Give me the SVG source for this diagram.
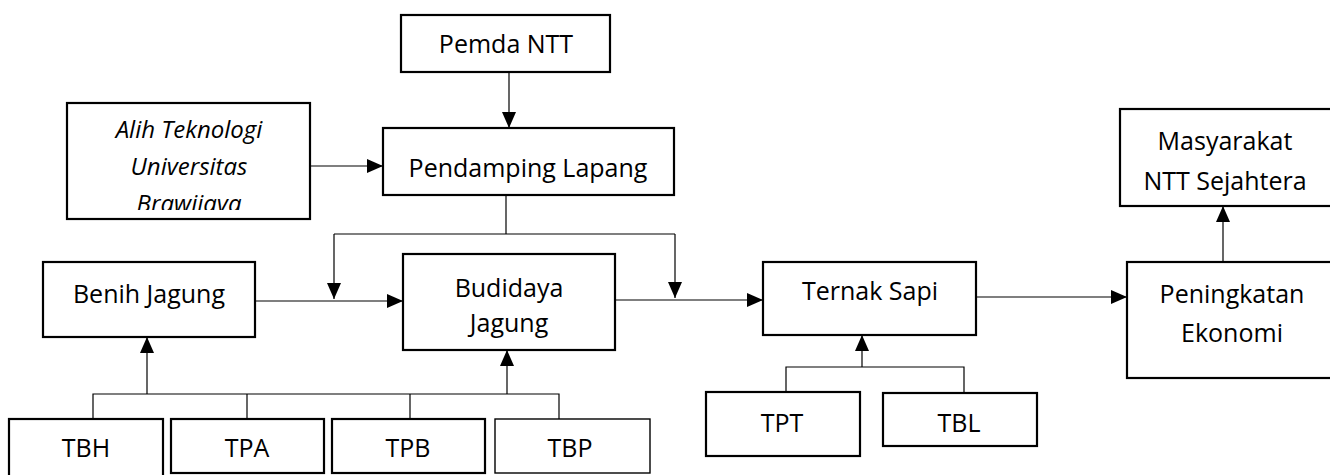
<svg xmlns="http://www.w3.org/2000/svg" width="1330" height="475" viewBox="0 0 1330 475">
<style>
.box{fill:#fff;stroke:#000;stroke-width:2.2}
.thin{stroke-width:1.4}
.t{font-family:"Open Sans","Noto Sans",sans-serif;font-size:25px;fill:#000;text-anchor:middle}
.it{font-style:italic;font-size:24px}
.ln{fill:none;stroke:#000;stroke-width:1.2}
</style>
<defs>
<marker id="ah" markerUnits="userSpaceOnUse" markerWidth="16" markerHeight="14" viewBox="0 0 16 14" refX="16" refY="7" orient="auto">
<path d="M0,0 L16,7 L0,14 z" fill="#000"/>
</marker>
<clipPath id="alihclip"><rect x="67" y="103" width="243" height="107"/></clipPath>
</defs>
<rect width="1330" height="475" fill="#fff"/>

<g id="connectors">
<line class="ln" x1="509" y1="72" x2="509" y2="128" marker-end="url(#ah)"/>
<line class="ln" x1="310" y1="166" x2="383" y2="166" marker-end="url(#ah)"/>
<polyline class="ln" points="506,195 506,234"/>
<polyline class="ln" points="334,234 675,234"/>
<line class="ln" x1="334" y1="234" x2="334" y2="299" marker-end="url(#ah)"/>
<line class="ln" x1="675" y1="234" x2="675" y2="298" marker-end="url(#ah)"/>
<line class="ln" x1="255" y1="301" x2="403" y2="301" marker-end="url(#ah)"/>
<line class="ln" x1="615" y1="300" x2="763" y2="300" marker-end="url(#ah)"/>
<line class="ln" x1="976" y1="297" x2="1127" y2="297" marker-end="url(#ah)"/>
<line class="ln" x1="1223" y1="262" x2="1223" y2="206" marker-end="url(#ah)"/>
<polyline class="ln" points="93,419 93,394 559,394 559,419"/>
<line class="ln" x1="247" y1="394" x2="247" y2="419"/>
<line class="ln" x1="410" y1="394" x2="410" y2="419"/>
<line class="ln" x1="147" y1="394" x2="147" y2="337" marker-end="url(#ah)"/>
<line class="ln" x1="507" y1="394" x2="507" y2="350" marker-end="url(#ah)"/>
<polyline class="ln" points="786,392 786,367 964,367 964,393"/>
<line class="ln" x1="862" y1="367" x2="862" y2="335" marker-end="url(#ah)"/>
</g>

<g id="pemda">
<rect class="box" x="401" y="15" width="209" height="57"/>
<text class="t" x="506" y="53">Pemda NTT</text>
</g>
<g id="alih">
<rect class="box" x="67" y="103" width="243" height="116"/>
<g clip-path="url(#alihclip)">
<text class="t it" x="189" y="138">Alih Teknologi</text>
<text class="t it" x="189" y="175">Universitas</text>
<text class="t it" x="189" y="212">Brawijaya</text>
</g>
</g>
<g id="pendamping">
<rect class="box" x="383" y="128" width="291" height="67"/>
<text class="t" x="528" y="177">Pendamping Lapang</text>
</g>
<g id="benih">
<rect class="box" x="43" y="262" width="212" height="75"/>
<text class="t" x="149" y="303">Benih Jagung</text>
</g>
<g id="budidaya">
<rect class="box" x="403" y="254" width="212" height="96"/>
<text class="t" x="509" y="297">Budidaya</text>
<text class="t" x="509" y="332">Jagung</text>
</g>
<g id="ternak">
<rect class="box" x="763" y="262" width="213" height="73"/>
<text class="t" x="870" y="300">Ternak Sapi</text>
</g>
<g id="peningkatan">
<rect class="box" x="1127" y="262" width="210" height="116"/>
<text class="t" x="1232" y="303">Peningkatan</text>
<text class="t" x="1232" y="342">Ekonomi</text>
</g>
<g id="masyarakat">
<rect class="box" x="1120" y="109" width="217" height="97"/>
<text class="t" x="1225" y="150">Masyarakat</text>
<text class="t" x="1225" y="190">NTT Sejahtera</text>
</g>
<g id="tbh">
<rect class="box" x="9" y="419" width="154" height="60"/>
<text class="t" x="86" y="457">TBH</text>
</g>
<g id="tpa">
<rect class="box" x="171" y="419" width="153" height="54"/>
<text class="t" x="247" y="457">TPA</text>
</g>
<g id="tpb">
<rect class="box" x="332" y="419" width="153" height="54"/>
<text class="t" x="408" y="457">TPB</text>
</g>
<g id="tbp">
<rect class="box thin" x="495" y="419" width="155" height="54"/>
<text class="t" x="570" y="457">TBP</text>
</g>
<g id="tpt">
<rect class="box" x="706" y="392" width="154" height="64"/>
<text class="t" x="782" y="432">TPT</text>
</g>
<g id="tbl">
<rect class="box" x="883" y="393" width="154" height="53"/>
<text class="t" x="959" y="432">TBL</text>
</g>
</svg>
